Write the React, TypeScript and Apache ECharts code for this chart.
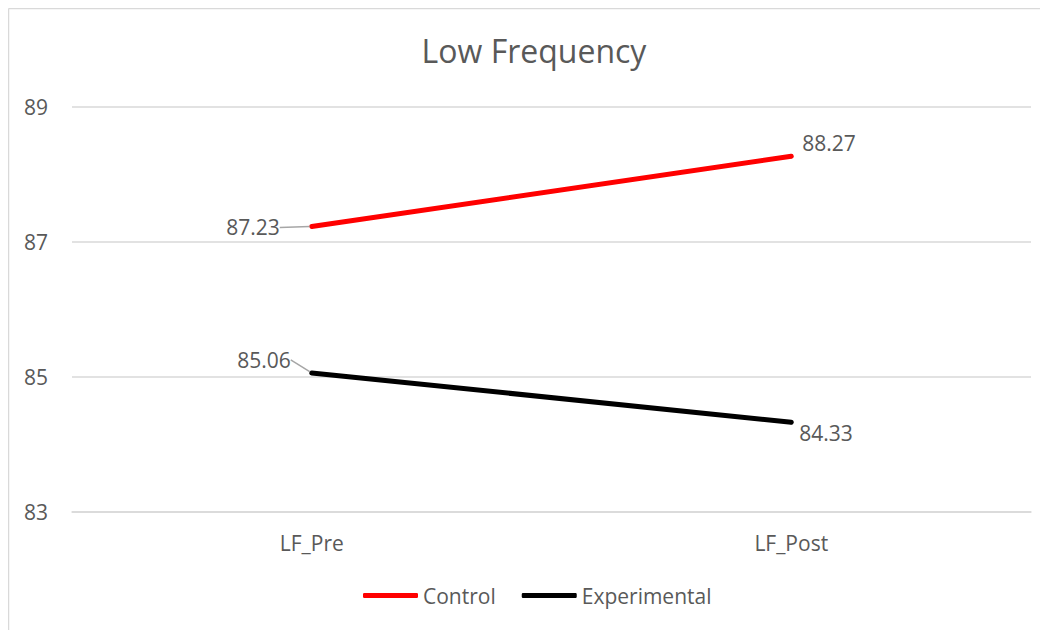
import React, { useEffect, useRef } from "react";
import * as echarts from "echarts";

const categories = ["LF_Pre", "LF_Post"];
const controlValues = [87.23, 88.27];
const experimentalValues = [85.06, 84.33];
const yTicks = { min: 83, max: 89, interval: 2 };
const titleText = "Low Frequency";

const FONT = "'Open Sans', 'Noto Sans', sans-serif";
const TXT = "#595959";

export default function App() {
  const ref = useRef<HTMLDivElement>(null);
  useEffect(() => {
    if (!ref.current) return;
    const chart = echarts.init(ref.current, undefined, { renderer: "svg" });
    const labelBase = {
      show: true,
      color: TXT,
      fontFamily: FONT,
      fontSize: 21,
      formatter: (p: any) => p.value.toFixed(2),
    };
    chart.setOption({
      animation: false,
      backgroundColor: "#fff",
      title: {
        text: titleText,
        left: 521,
        top: 21,
        textAlign: "center",
        textStyle: { color: TXT, fontFamily: FONT, fontSize: 32, fontWeight: "normal" },
      },
      grid: { left: 64, right: 17, top: 99, height: 405, containLabel: false },
      legend: {
        left: 350,
        top: 572,
        itemWidth: 55,
        itemHeight: 5,
        itemGap: 26,
        textStyle: { color: TXT, fontFamily: FONT, fontSize: 21 },
        data: [
          { name: "Control", icon: "roundRect" },
          { name: "Experimental", icon: "roundRect" },
        ],
      },
      xAxis: {
        type: "category",
        data: categories,
        boundaryGap: true,
        axisLine: { show: true, lineStyle: { color: "#d9d9d9", width: 1.5 } },
        axisTick: { show: false },
        axisLabel: { color: TXT, fontFamily: FONT, fontSize: 21, margin: 20 },
      },
      yAxis: {
        type: "value",
        min: yTicks.min,
        max: yTicks.max,
        interval: yTicks.interval,
        axisLine: { show: false },
        axisTick: { show: false },
        splitLine: { lineStyle: { color: "#d9d9d9", width: 1.5 } },
        axisLabel: { color: TXT, fontFamily: FONT, fontSize: 21, margin: 24 },
      },
      series: [
        {
          name: "Control",
          type: "line",
          symbol: "circle",
          symbolSize: 4,
          showSymbol: true,
          color: "#ff0000",
          itemStyle: { color: "#ff0000" },
          lineStyle: { color: "#ff0000", width: 5, cap: "round" },
          label: { ...labelBase },
          labelLine: { show: true, lineStyle: { color: "#a6a6a6", width: 1.5 } },
          labelLayout: (p: any) =>
            p.dataIndex === 0 ? { dx: -25, dy: 1 } : { dx: 0, dy: -13 },
          data: controlValues.map((v, i) => ({
            value: v,
            label: i === 0 ? { position: "left", distance: 5 } : { position: "right", distance: 9 },
            labelLine: { show: i === 0 },
          })),
        },
        {
          name: "Experimental",
          type: "line",
          symbol: "circle",
          symbolSize: 4,
          showSymbol: true,
          color: "#000000",
          itemStyle: { color: "#000000" },
          lineStyle: { color: "#000000", width: 5, cap: "round" },
          label: { ...labelBase },
          labelLine: { show: true, lineStyle: { color: "#a6a6a6", width: 1.5 } },
          labelLayout: (p: any) =>
            p.dataIndex === 0 ? { dx: -14, dy: -13 } : { dx: 0, dy: 11 },
          data: experimentalValues.map((v, i) => ({
            value: v,
            label: i === 0 ? { position: "left", distance: 5 } : { position: "right", distance: 6 },
            labelLine: { show: i === 0 },
          })),
        },
      ],
      graphic: [
        { type: "line", shape: { x1: 0.5, y1: 0.5, x2: 1040, y2: 0.5 }, style: { stroke: "#d9d9d9", lineWidth: 1.5 } },
        { type: "line", shape: { x1: 0.5, y1: 0.5, x2: 0.5, y2: 622 }, style: { stroke: "#d9d9d9", lineWidth: 1.5 } },
      ],
    });
    return () => chart.dispose();
  }, []);
  return <div ref={ref} style={{ width: 1040, height: 622 }} />;
}
